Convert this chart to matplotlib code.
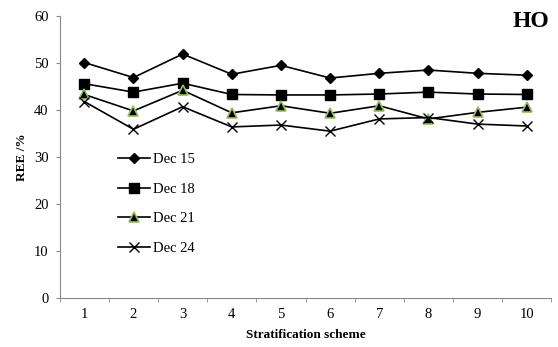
import numpy as np
import matplotlib.pyplot as plt

plt.rcParams['font.family'] = ['Liberation Serif', 'DejaVu Serif']

schemes = [1, 2, 3, 4, 5, 6, 7, 8, 9, 10]
dec15 = [50.1, 46.9, 51.9, 47.6, 49.5, 46.8, 47.8, 48.5, 47.8, 47.4]
dec18 = [45.6, 43.8, 45.7, 43.3, 43.2, 43.2, 43.4, 43.8, 43.4, 43.3]
dec21 = [43.3, 39.8, 44.2, 39.4, 40.9, 39.3, 40.9, 38.1, 39.5, 40.6]
dec24 = [41.8, 35.9, 40.7, 36.4, 36.8, 35.5, 38.1, 38.4, 37.0, 36.6]

fig = plt.figure(figsize=(5.58, 3.47), dpi=100)
ax = fig.add_axes([0.107, 0.141, 0.881, 0.813])

ax.plot(schemes, dec15, color='black', lw=1.2, marker='D', ms=5, label='Dec 15')
ax.plot(schemes, dec18, color='black', lw=1.2, marker='s', ms=6.5, label='Dec 18')
ax.plot(schemes, dec21, color='black', lw=1.2, marker='^', ms=6.5, mfc='black',
        mec='#9BBB59', mew=1.2, label='Dec 21')
ax.plot(schemes, dec24, color='black', lw=1.2, marker='x', ms=6.5, mew=1, label='Dec 24')

ax.set_xlim(0.5, 10.5)
ax.set_ylim(0, 60)
ax.set_yticks(np.arange(0, 61, 10))
ax.set_xticks(schemes)
ax.set_xticks(np.arange(0.5, 10.6, 1), minor=True)
ax.tick_params(axis='x', which='major', length=0, labelsize=10.5, pad=7)
ax.tick_params(axis='x', which='minor', length=3, color='#888888', direction='out')
ax.tick_params(axis='y', length=3, color='#888888', labelsize=10.5, pad=5)
for s in ['top', 'right']:
    ax.spines[s].set_visible(False)
for s in ['left', 'bottom']:
    ax.spines[s].set_color('#888888')

ax.set_xlabel('Stratification scheme', fontsize=9.5, fontweight='bold', labelpad=6)
ax.set_ylabel('REE /%', fontsize=9.5, fontweight='bold', labelpad=4)

ax.legend(loc='upper left', bbox_to_anchor=(0.118, 0.514), frameon=False, fontsize=10.5,
          handlelength=2.2, labelspacing=1.12, handletextpad=0.2,
          borderpad=0, borderaxespad=0)

fig.text(0.919, 0.937, 'HO', fontsize=17, fontweight='bold', ha='left', va='center')

fig.savefig('out.png', dpi=100)
